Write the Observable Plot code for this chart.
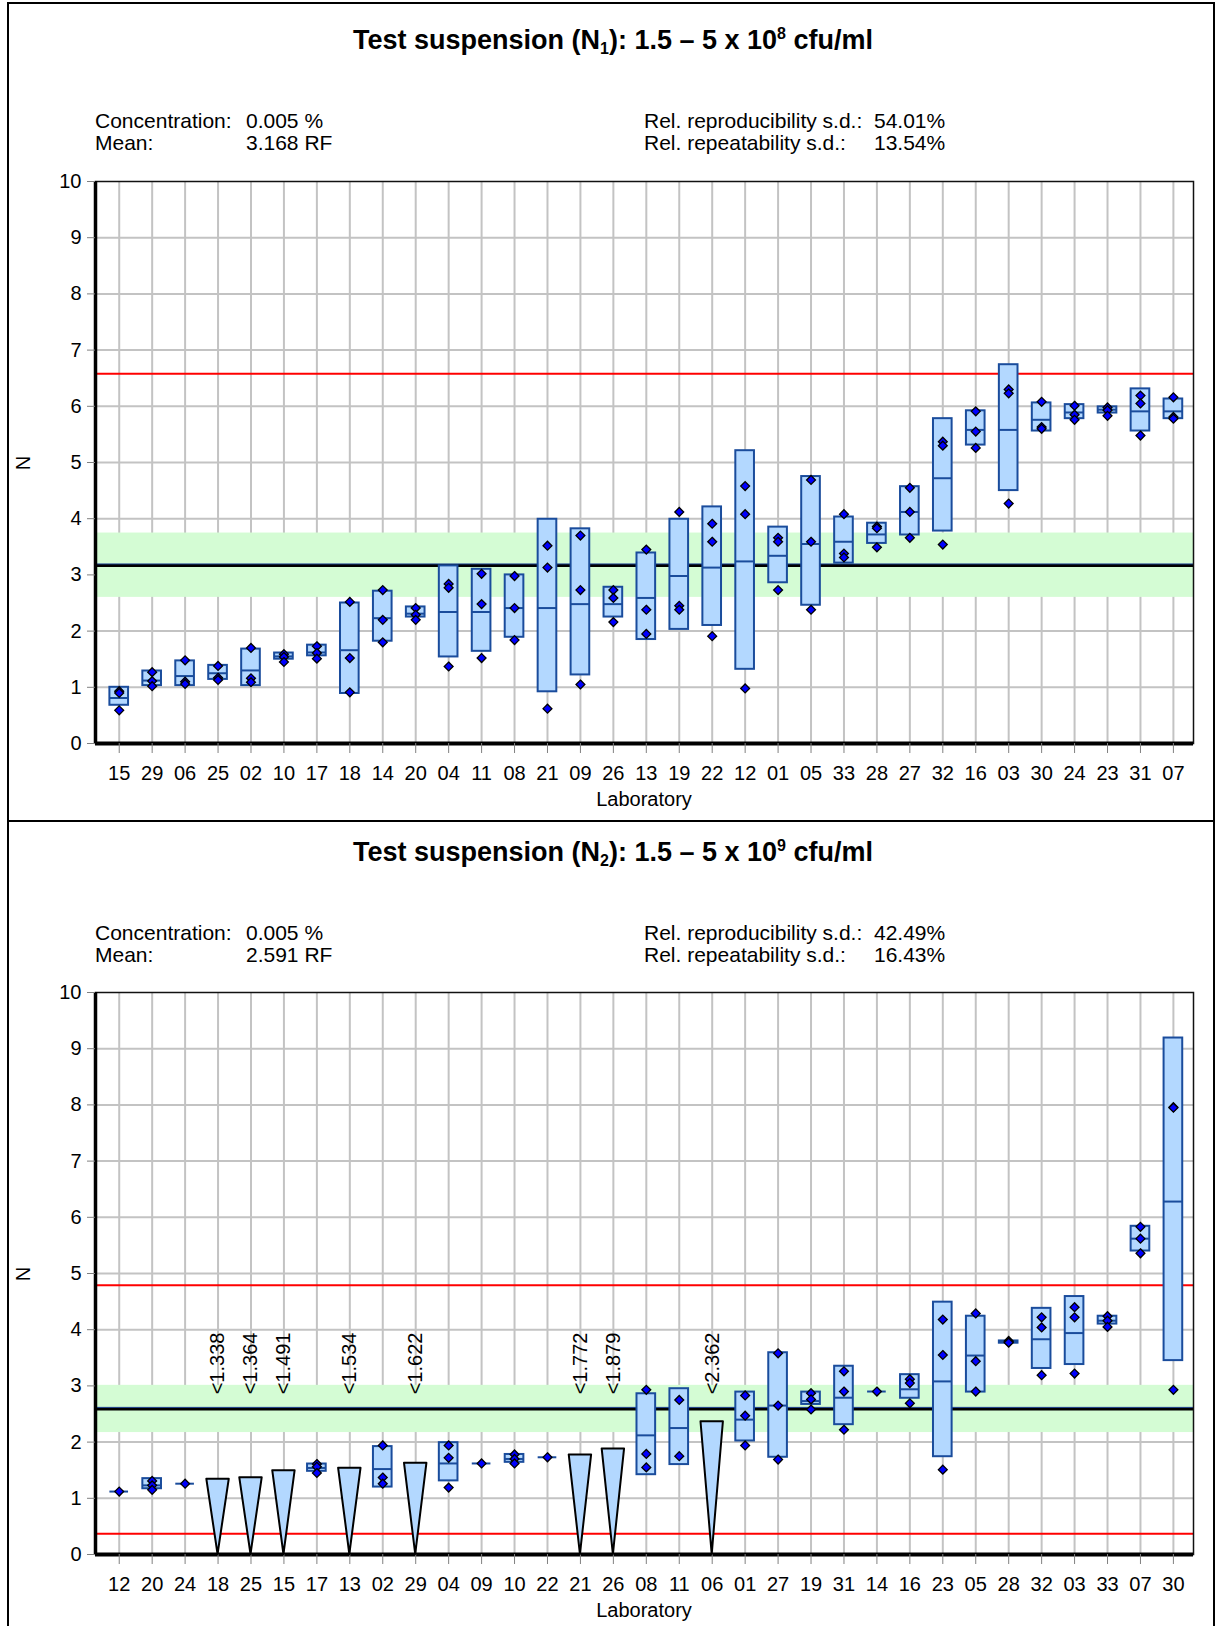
<!DOCTYPE html>
<html>
<head>
<meta charset="utf-8">
<script src="https://cdn.jsdelivr.net/npm/d3@7"></script>
<script src="https://cdn.jsdelivr.net/npm/@observablehq/plot@0.6"></script>
<style>
  body { margin: 0; background: #fff; font-family: "Liberation Sans", Arial, sans-serif; color: #000; }
  #page { position: relative; width: 1215px; height: 1626px; overflow: hidden; background: #fff; }
  .abs { position: absolute; white-space: nowrap; }
  .border { position: absolute; left: 7px; top: 2px; width: 1204px; height: 1640px; border: 2px solid #000; }
  .divider { position: absolute; left: 7px; width: 1208px; height: 2px; background: #000; }
  .title { left: 8px; width: 1210px; text-align: center; font-weight: bold; font-size: 27px; line-height: 30px; }
  .title .sub { font-size: 16px; position: relative; top: 5px; }
  .title .sup { font-size: 16px; position: relative; top: -10px; }
  .info { font-size: 21px; line-height: 22px; }
  .xlab { font-size: 20px; line-height: 22px; width: 300px; text-align: center; }
  .ylab { font-size: 20px; line-height: 20px; transform: rotate(-90deg); transform-origin: center; }
  svg text { font-family: "Liberation Sans", Arial, sans-serif; }
</style>
</head>
<body>
<div id="page"></div>
<script>
// ---------- Panel 1 : N1 ----------
const labs1 = ["15","29","06","25","02","10","17","18","14","20","04","11","08","21","09","26","13","19","22","12","01","05","33","28","27","32","16","03","30","24","23","31","07"];
const boxLo1 = [0.68,1.03,1.03,1.14,1.03,1.50,1.56,0.89,1.82,2.25,1.54,1.64,1.89,0.92,1.22,2.25,1.85,2.03,2.10,1.32,2.86,2.46,3.21,3.56,3.71,3.78,5.31,4.50,5.56,5.78,5.88,5.56,5.78];
const boxHi1 = [1.00,1.29,1.47,1.39,1.68,1.61,1.75,2.50,2.71,2.43,3.16,3.10,3.00,3.99,3.82,2.78,3.39,3.99,4.21,5.21,3.85,4.75,4.03,3.92,4.57,5.78,5.92,6.74,6.06,6.03,5.99,6.31,6.13];
const labMean1 = [0.81,1.12,1.20,1.25,1.30,1.55,1.62,1.66,2.23,2.31,2.34,2.34,2.41,2.41,2.48,2.48,2.59,2.98,3.13,3.24,3.34,3.55,3.59,3.72,4.12,4.72,5.58,5.58,5.76,5.89,5.94,5.91,5.91];
const reps1 = [[0.93,0.90,0.59],[1.27,1.11,1.02],[1.48,1.10,1.06],[1.38,1.17,1.13],[1.70,1.16,1.09],[1.59,1.54,1.45],[1.73,1.61,1.51],[2.52,1.52,0.91],[2.73,2.20,1.80],[2.41,2.29,2.20],[2.84,2.77,1.37],[3.02,2.48,1.52],[2.98,2.41,1.84],[3.52,3.13,0.62],[3.70,2.73,1.05],[2.73,2.59,2.16],[3.45,2.38,1.95],[4.12,2.45,2.38],[3.91,3.59,1.91],[4.58,4.08,0.98],[3.66,3.59,2.73],[4.69,3.59,2.38],[4.08,3.38,3.31],[3.86,3.83,3.49],[4.55,4.12,3.66],[5.37,5.30,3.54],[5.91,5.55,5.26],[6.30,6.23,4.27],[6.08,5.63,5.60],[6.01,5.85,5.76],[5.98,5.93,5.83],[6.19,6.05,5.48],[6.16,5.81,5.78]];
const limit1 = null;
const grandMean1 = 3.168;
const band1 = [2.60, 3.745];
const redLines1 = [6.58];
const info1 = { conc: "0.005 %", mean: "3.168 RF", reprod: "54.01%", repeat: "13.54%" };
const title1 = { base: "Test suspension (N", sub: "1", mid: "): 1.5 – 5 x 10", sup: "8", end: " cfu/ml" };

// ---------- Panel 2 : N2 ----------
const labs2 = ["12","20","24","18","25","15","17","13","02","29","04","09","10","22","21","26","08","11","06","01","27","19","31","14","16","23","05","28","32","03","33","07","30"];
const limit2 = [null,null,null,1.338,1.364,1.491,null,1.534,null,1.622,null,null,null,null,1.772,1.879,null,null,2.362,null,null,null,null,null,null,null,null,null,null,null,null,null,null];
const boxLo2 = [1.12,1.17,1.26,null,null,null,1.48,null,1.20,null,1.31,1.62,1.64,1.73,null,null,1.42,1.60,null,2.02,1.73,2.67,2.31,2.90,2.78,1.74,2.89,3.76,3.31,3.38,4.10,5.40,3.45];
const boxHi2 = [1.12,1.35,1.26,null,null,null,1.61,null,1.92,null,1.99,1.62,1.78,1.73,null,null,2.86,2.95,null,2.89,3.59,2.89,3.35,2.90,3.20,4.49,4.24,3.80,4.38,4.59,4.24,5.84,9.19];
const labMean2 = [1.12,1.23,1.26,null,null,null,1.54,null,1.52,null,1.62,1.62,1.70,1.73,null,null,2.12,2.25,null,2.40,2.65,2.73,2.79,2.90,2.94,3.08,3.54,3.78,3.83,3.94,4.16,5.62,6.28];
const reps2 = [[1.12],[1.31,1.23,1.15],[1.26],[],[],[],[1.61,1.56,1.45],[],[1.94,1.37,1.26],[],[1.94,1.72,1.19],[1.62],[1.78,1.70,1.62],[1.73],[],[],[2.93,1.79,1.55],[2.75,1.75],[],[2.83,2.47,1.94],[3.58,2.65,1.69],[2.87,2.76,2.58],[3.26,2.90,2.22],[2.90],[3.12,3.05,2.69],[4.18,3.55,1.51],[4.29,3.44,2.90],[3.80,3.78,3.77],[4.22,4.04,3.19],[4.40,4.22,3.22],[4.24,4.16,4.05],[5.83,5.62,5.36],[7.96,7.95,2.93]];
const grandMean2 = 2.591;
const band2 = [2.17, 3.01];
const redLines2 = [4.79, 0.37];
const info2 = { conc: "0.005 %", mean: "2.591 RF", reprod: "42.49%", repeat: "16.43%" };
const title2 = { base: "Test suspension (N", sub: "2", mid: "): 1.5 – 5 x 10", sup: "9", end: " cfu/ml" };

const yTicks = d3.range(0, 11);
const xAxisLabel = "Laboratory";
const yAxisLabel = "N";

// ---------- styling constants ----------
const BOX_HALF = 0.283, TRI_HALF = 0.34;
const BOX_FILL = "#b3d8ff", BOX_STROKE = "#1a4c9c";
const DOT_FILL = "#0000ff";
const GREEN = "#d4fcd4", GRID = "#c3c3c3";

function drawPanel(cfg) {
  const n = cfg.labs.length;
  const idx = d3.range(n);
  const boxes = idx.filter(i => cfg.lo[i] != null).map(i => ({i, lo: cfg.lo[i], hi: cfg.hi[i], m: cfg.mid[i]}));
  const dots = idx.flatMap(i => cfg.reps[i].map(v => ({i, v})));
  const lim = cfg.limit ? idx.filter(i => cfg.limit[i] != null).map(i => ({i, v: cfg.limit[i]})) : [];
  const tri = lim.flatMap(d => [
    {i: d.i, x: d.i - TRI_HALF, y1: d.v, y2: d.v},
    {i: d.i, x: d.i, y1: 0, y2: d.v},
    {i: d.i, x: d.i + TRI_HALF, y1: d.v, y2: d.v}
  ]);
  const xDom = [-0.72, n - 1 + 0.61];
  return Plot.plot({
    width: 1215, height: 654,
    marginLeft: 95, marginRight: 22, marginTop: 21, marginBottom: 71,
    style: {fontFamily: "Liberation Sans, Arial, sans-serif", fontSize: "20px", color: "#000", background: "transparent", overflow: "visible"},
    x: {type: "linear", domain: xDom, axis: null},
    y: {domain: [0, 10], axis: null},
    marks: [
      Plot.gridX(idx, {stroke: GRID, strokeOpacity: 1, strokeWidth: 2}),
      Plot.gridY(d3.range(1, 10), {stroke: GRID, strokeOpacity: 1, strokeWidth: 2}),
      Plot.rect([cfg.band], {y1: d => d[0], y2: d => d[1], fill: GREEN}),
      Plot.ruleY(cfg.red, {stroke: "#ff0000", strokeWidth: 2}),
      Plot.ruleY([cfg.mean], {stroke: "#000", strokeWidth: 3}),
      Plot.ruleY([cfg.mean], {stroke: "#1c3f8f", strokeWidth: 1, dy: -1.5}),
      Plot.frame({stroke: "#111", strokeWidth: 1.5}),
      Plot.ruleX([xDom[0]], {stroke: "#000", strokeWidth: 3.5}),
      Plot.ruleY([0], {stroke: "#000", strokeWidth: 4}),
      Plot.axisY(yTicks, {tickFormat: d3.format("d"), tickSize: 8, tickPadding: 6, stroke: "#808080", fill: "#000", fontSize: 20, label: null}),
      Plot.axisX(idx, {tickFormat: i => cfg.labs[i], tickSize: 10, tickPadding: 12, stroke: "#808080", fill: "#000", fontSize: 20, label: null}),
      Plot.rect(boxes, {x1: d => d.i - BOX_HALF, x2: d => d.i + BOX_HALF, y1: "lo", y2: "hi", fill: BOX_FILL, stroke: BOX_STROKE, strokeWidth: 2}),
      Plot.ruleY(boxes, {x1: d => d.i - BOX_HALF, x2: d => d.i + BOX_HALF, y: "m", stroke: BOX_STROKE, strokeWidth: 2}),
      Plot.area(tri, {x1: "x", y1: "y1", y2: "y2", z: "i", fill: BOX_FILL, stroke: "#000", strokeWidth: 2, curve: "linear"}),
      Plot.dot(dots, {x: "i", y: "v", symbol: "diamond2", r: 4, fill: DOT_FILL, stroke: "#000", strokeWidth: 1.3}),
      Plot.text(lim, {x: "i", y: () => cfg.band[1], dy: 9, text: d => "<" + d.v.toFixed(3), rotate: -90, textAnchor: "start", fontSize: 20, fill: "#000"})
    ]
  });
}

const page = document.getElementById("page");
function addDiv(cls, css, html) {
  const d = document.createElement("div");
  d.className = cls;
  Object.assign(d.style, css);
  d.innerHTML = html;
  page.appendChild(d);
  return d;
}

addDiv("border", {}, "");
addDiv("divider", {top: "820px"}, "");

function panel(offset, svgTop, t, info, cfg) {
  addDiv("abs title", {top: (offset + 25) + "px"},
    t.base + '<span class="sub">' + t.sub + '</span>' + t.mid + '<span class="sup">' + t.sup + '</span>' + t.end);
  addDiv("abs info", {left: "95px", top: (offset + 110) + "px"}, "Concentration:");
  addDiv("abs info", {left: "246px", top: (offset + 110) + "px"}, info.conc);
  addDiv("abs info", {left: "95px", top: (offset + 132) + "px"}, "Mean:");
  addDiv("abs info", {left: "246px", top: (offset + 132) + "px"}, info.mean);
  addDiv("abs info", {left: "644px", top: (offset + 110) + "px"}, "Rel. reproducibility s.d.:");
  addDiv("abs info", {left: "874px", top: (offset + 110) + "px"}, info.reprod);
  addDiv("abs info", {left: "644px", top: (offset + 132) + "px"}, "Rel. repeatability s.d.:");
  addDiv("abs info", {left: "874px", top: (offset + 132) + "px"}, info.repeat);
  const holder = addDiv("abs", {left: "0px", top: svgTop + "px"}, "");
  holder.appendChild(drawPanel(cfg));
  addDiv("abs xlab", {left: "494px", top: (svgTop + 628) + "px"}, xAxisLabel);
  addDiv("abs ylab", {left: "16px", top: (svgTop + 293) + "px"}, yAxisLabel);
}

panel(0, 160, title1, info1, {labs: labs1, lo: boxLo1, hi: boxHi1, mid: labMean1, reps: reps1, limit: limit1, mean: grandMean1, band: band1, red: redLines1});
panel(812, 971, title2, info2, {labs: labs2, lo: boxLo2, hi: boxHi2, mid: labMean2, reps: reps2, limit: limit2, mean: grandMean2, band: band2, red: redLines2});
</script>
</body>
</html>
